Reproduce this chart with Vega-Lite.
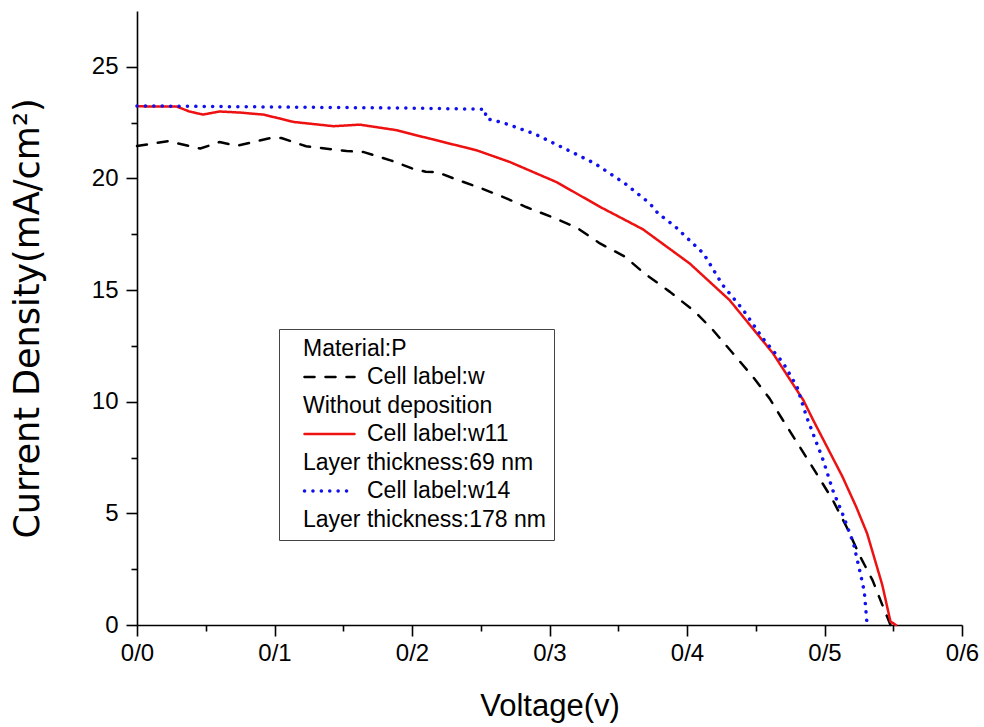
{
  "$schema": "https://vega.github.io/schema/vega-lite/v6.json",
  "width": 825,
  "height": 614,
  "autosize": {"type": "none"},
  "padding": {"left": 137, "top": 11, "right": 22, "bottom": 102},
  "background": "white",
  "config": {"view": {"stroke": null}, "font": "Liberation Sans"},
  "data": {
    "values": [
      {"series": "Cell label:w", "v": 0, "j": 21.45},
      {"series": "Cell label:w", "v": 0.0225, "j": 21.67},
      {"series": "Cell label:w", "v": 0.046, "j": 21.34},
      {"series": "Cell label:w", "v": 0.06, "j": 21.63},
      {"series": "Cell label:w", "v": 0.0725, "j": 21.46},
      {"series": "Cell label:w", "v": 0.097, "j": 21.81},
      {"series": "Cell label:w", "v": 0.105, "j": 21.81},
      {"series": "Cell label:w", "v": 0.123, "j": 21.44},
      {"series": "Cell label:w", "v": 0.1525, "j": 21.23},
      {"series": "Cell label:w", "v": 0.165, "j": 21.18},
      {"series": "Cell label:w", "v": 0.185, "j": 20.8},
      {"series": "Cell label:w", "v": 0.2, "j": 20.45},
      {"series": "Cell label:w", "v": 0.21, "j": 20.3},
      {"series": "Cell label:w", "v": 0.218, "j": 20.29},
      {"series": "Cell label:w", "v": 0.2325, "j": 19.95},
      {"series": "Cell label:w", "v": 0.2507, "j": 19.55},
      {"series": "Cell label:w", "v": 0.269, "j": 19.1},
      {"series": "Cell label:w", "v": 0.283, "j": 18.72},
      {"series": "Cell label:w", "v": 0.3027, "j": 18.25},
      {"series": "Cell label:w", "v": 0.32, "j": 17.79},
      {"series": "Cell label:w", "v": 0.3367, "j": 17.09},
      {"series": "Cell label:w", "v": 0.355, "j": 16.49},
      {"series": "Cell label:w", "v": 0.369, "j": 15.75},
      {"series": "Cell label:w", "v": 0.3876, "j": 14.92},
      {"series": "Cell label:w", "v": 0.406, "j": 14.02},
      {"series": "Cell label:w", "v": 0.419, "j": 13.2},
      {"series": "Cell label:w", "v": 0.4335, "j": 12.16},
      {"series": "Cell label:w", "v": 0.448, "j": 11.11},
      {"series": "Cell label:w", "v": 0.46, "j": 10.15},
      {"series": "Cell label:w", "v": 0.469, "j": 9.25},
      {"series": "Cell label:w", "v": 0.482, "j": 7.98},
      {"series": "Cell label:w", "v": 0.494, "j": 6.8},
      {"series": "Cell label:w", "v": 0.506, "j": 5.6},
      {"series": "Cell label:w", "v": 0.516, "j": 4.4},
      {"series": "Cell label:w", "v": 0.526, "j": 3.06},
      {"series": "Cell label:w", "v": 0.535, "j": 2.0},
      {"series": "Cell label:w", "v": 0.5416, "j": 0.97},
      {"series": "Cell label:w", "v": 0.548, "j": 0},
      {"series": "Cell label:w11", "v": 0, "j": 23.23},
      {"series": "Cell label:w11", "v": 0.029, "j": 23.22},
      {"series": "Cell label:w11", "v": 0.038, "j": 23.0},
      {"series": "Cell label:w11", "v": 0.048, "j": 22.86},
      {"series": "Cell label:w11", "v": 0.06, "j": 23.0},
      {"series": "Cell label:w11", "v": 0.075, "j": 22.95},
      {"series": "Cell label:w11", "v": 0.092, "j": 22.86},
      {"series": "Cell label:w11", "v": 0.114, "j": 22.53},
      {"series": "Cell label:w11", "v": 0.143, "j": 22.34},
      {"series": "Cell label:w11", "v": 0.162, "j": 22.41},
      {"series": "Cell label:w11", "v": 0.189, "j": 22.16},
      {"series": "Cell label:w11", "v": 0.206, "j": 21.89},
      {"series": "Cell label:w11", "v": 0.247, "j": 21.26},
      {"series": "Cell label:w11", "v": 0.271, "j": 20.74},
      {"series": "Cell label:w11", "v": 0.305, "j": 19.84},
      {"series": "Cell label:w11", "v": 0.337, "j": 18.72},
      {"series": "Cell label:w11", "v": 0.368, "j": 17.72},
      {"series": "Cell label:w11", "v": 0.402, "j": 16.19},
      {"series": "Cell label:w11", "v": 0.431, "j": 14.55},
      {"series": "Cell label:w11", "v": 0.4625, "j": 12.17},
      {"series": "Cell label:w11", "v": 0.4846, "j": 10.07},
      {"series": "Cell label:w11", "v": 0.492, "j": 9.15},
      {"series": "Cell label:w11", "v": 0.513, "j": 6.65},
      {"series": "Cell label:w11", "v": 0.523, "j": 5.3},
      {"series": "Cell label:w11", "v": 0.531, "j": 4.1},
      {"series": "Cell label:w11", "v": 0.542, "j": 1.8},
      {"series": "Cell label:w11", "v": 0.548, "j": 0.15},
      {"series": "Cell label:w11", "v": 0.552, "j": 0},
      {"series": "Cell label:w14", "v": 0, "j": 23.25},
      {"series": "Cell label:w14", "v": 0.1, "j": 23.2},
      {"series": "Cell label:w14", "v": 0.2, "j": 23.15},
      {"series": "Cell label:w14", "v": 0.253, "j": 23.1},
      {"series": "Cell label:w14", "v": 0.254, "j": 22.68},
      {"series": "Cell label:w14", "v": 0.266, "j": 22.5},
      {"series": "Cell label:w14", "v": 0.289, "j": 22.0},
      {"series": "Cell label:w14", "v": 0.311, "j": 21.34},
      {"series": "Cell label:w14", "v": 0.333, "j": 20.67},
      {"series": "Cell label:w14", "v": 0.355, "j": 19.77},
      {"series": "Cell label:w14", "v": 0.373, "j": 18.88},
      {"series": "Cell label:w14", "v": 0.379, "j": 18.43},
      {"series": "Cell label:w14", "v": 0.391, "j": 17.87},
      {"series": "Cell label:w14", "v": 0.407, "j": 16.93},
      {"series": "Cell label:w14", "v": 0.412, "j": 16.64},
      {"series": "Cell label:w14", "v": 0.426, "j": 15.22},
      {"series": "Cell label:w14", "v": 0.441, "j": 14.1},
      {"series": "Cell label:w14", "v": 0.455, "j": 12.85},
      {"series": "Cell label:w14", "v": 0.47, "j": 11.73},
      {"series": "Cell label:w14", "v": 0.48, "j": 10.67},
      {"series": "Cell label:w14", "v": 0.487, "j": 9.32},
      {"series": "Cell label:w14", "v": 0.499, "j": 7.39},
      {"series": "Cell label:w14", "v": 0.506, "j": 6.04},
      {"series": "Cell label:w14", "v": 0.513, "j": 5.0},
      {"series": "Cell label:w14", "v": 0.521, "j": 3.67},
      {"series": "Cell label:w14", "v": 0.526, "j": 2.33},
      {"series": "Cell label:w14", "v": 0.529, "j": 1.47},
      {"series": "Cell label:w14", "v": 0.531, "j": 0}
    ]
  },
  "layer": [
    {
      "mark": {"type": "line", "strokeCap": "round", "strokeJoin": "round"},
      "encoding": {
        "x": {
          "field": "v", "type": "quantitative",
          "scale": {"domain": [0, 0.6], "nice": false, "zero": false},
          "axis": {
            "orient": "bottom",
            "values": [0, 0.1, 0.2, 0.3, 0.4, 0.5, 0.6],
            "labelExpr": "replace(format(datum.value, '.1f'), '.', '/')",
            "title": "Voltage(v)", "grid": false,
            "domainColor": "black", "domainWidth": 1.6,
            "tickColor": "black", "tickWidth": 1.6, "tickSize": 11,
            "labelFontSize": 24, "labelColor": "black", "labelPadding": 5, "labelFlush": false,
            "titleFontSize": 31, "titleFontWeight": "normal", "titleColor": "black", "titlePadding": 26
          }
        },
        "y": {
          "field": "j", "type": "quantitative",
          "scale": {"domain": [0, 27.5], "nice": false, "zero": false},
          "axis": {
            "orient": "left",
            "values": [0, 5, 10, 15, 20, 25],
            "title": "Current Density(mA/cm²)", "grid": false,
            "domainColor": "black", "domainWidth": 1.6,
            "tickColor": "black", "tickWidth": 1.6, "tickSize": 11,
            "labelFontSize": 24, "labelColor": "black", "labelPadding": 8,
            "titleFont": "DejaVu Sans",
            "titleFontSize": 35, "titleFontWeight": "normal", "titleColor": "black", "titlePadding": 46
          }
        },
        "color": {
          "field": "series", "type": "nominal",
          "scale": {
            "domain": ["Material:P", "Cell label:w", "Without deposition", "Cell label:w11", "Layer thickness:69 nm", "Cell label:w14", "Layer thickness:178 nm"],
            "range": ["rgba(0,0,0,0)", "#000000", "rgba(0,0,0,0)", "#ee1111", "rgba(0,0,0,0)", "#1111ee", "rgba(0,0,0,0)"]
          },
          "legend": {
            "title": null, "orient": "none", "legendX": 142, "legendY": 318,
            "symbolType": "M0,0H10", "symbolSize": 100, "symbolOffset": 6,
            "labelOffset": 51, "labelFontSize": 23, "labelColor": "black", "labelLimit": 400,
            "rowPadding": 4.5, "padding": 8, "strokeColor": "#444444", "fillColor": "white",
            "encode": {
              "symbols": {"update": {"strokeCap": {"value": "round"}, "strokeWidth": {"signal": "datum.label === 'Cell label:w14' ? 3.5 : 2.5"}}},
              "labels": {"update": {"dx": {"signal": "indexof(['Material:P','Without deposition','Layer thickness:69 nm','Layer thickness:178 nm'], datum.label) >= 0 ? -64 : 0"}}}
            }
          }
        },
        "strokeDash": {
          "field": "series", "type": "nominal",
          "scale": {
            "domain": ["Material:P", "Cell label:w", "Without deposition", "Cell label:w11", "Layer thickness:69 nm", "Cell label:w14", "Layer thickness:178 nm"],
            "range": [[1, 0], [10, 11], [1, 0], [1, 0], [1, 0], [0.1, 8.3], [1, 0]]
          },
          "legend": {
            "title": null, "orient": "none", "legendX": 142, "legendY": 318,
            "symbolType": "M0,0H10", "symbolSize": 100, "symbolOffset": 6,
            "labelOffset": 51, "labelFontSize": 23, "labelColor": "black", "labelLimit": 400,
            "rowPadding": 4.5, "padding": 8, "strokeColor": "#444444", "fillColor": "white",
            "encode": {
              "symbols": {"update": {"strokeCap": {"value": "round"}, "strokeWidth": {"signal": "datum.label === 'Cell label:w14' ? 3.5 : 2.5"}}},
              "labels": {"update": {"dx": {"signal": "indexof(['Material:P','Without deposition','Layer thickness:69 nm','Layer thickness:178 nm'], datum.label) >= 0 ? -64 : 0"}}}
            }
          }
        },
        "strokeWidth": {"condition": {"test": "datum.series === 'Cell label:w14'", "value": 3.5}, "value": 2.5}
      }
    },
    {
      "mark": {"type": "line", "strokeOpacity": 0},
      "encoding": {
        "x": {
          "field": "v", "type": "quantitative",
          "axis": {
            "orient": "bottom", "values": [0.05, 0.15, 0.25, 0.35, 0.45, 0.55],
            "labels": false, "domain": false, "grid": false, "title": null,
            "tickColor": "black", "tickWidth": 1.6, "tickSize": 6
          }
        },
        "y": {
          "field": "j", "type": "quantitative",
          "axis": {
            "orient": "left", "values": [2.5, 7.5, 12.5, 17.5, 22.5],
            "labels": false, "domain": false, "grid": false, "title": null,
            "tickColor": "black", "tickWidth": 1.6, "tickSize": 6
          }
        },
        "detail": {"field": "series", "type": "nominal"}
      }
    }
  ],
  "resolve": {"axis": {"x": "independent", "y": "independent"}}
}
